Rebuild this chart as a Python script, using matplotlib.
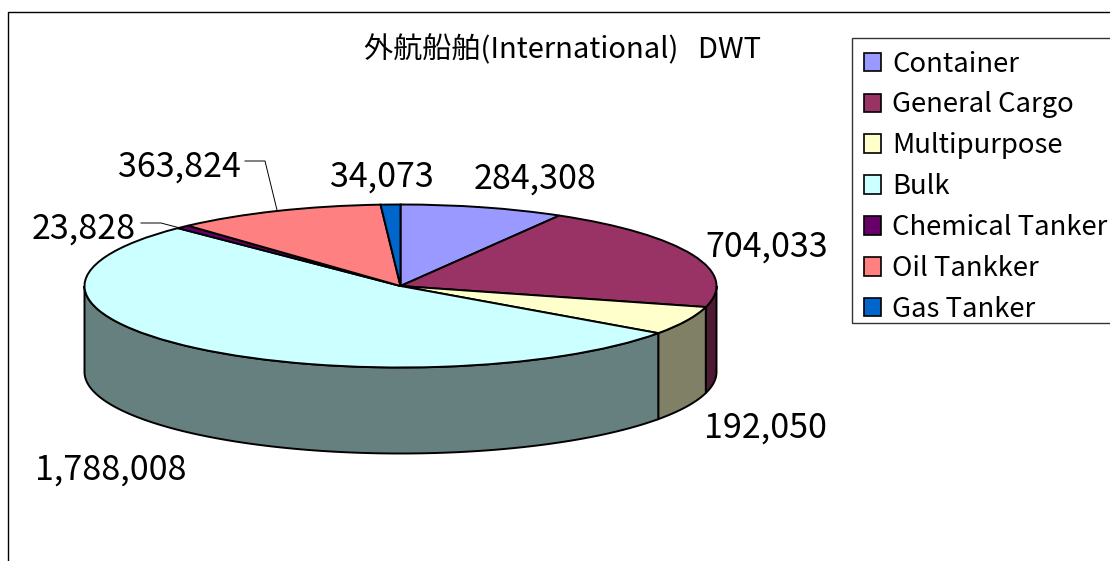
import numpy as np
import matplotlib
matplotlib.use("Agg")
import matplotlib.pyplot as plt
from matplotlib.patches import Patch, Polygon, Rectangle
from matplotlib.transforms import Affine2D

plt.rcParams['font.family'] = ['Noto Sans CJK JP', 'DejaVu Sans']

categories = ["Container", "General Cargo", "Multipurpose", "Bulk",
              "Chemical Tanker", "Oil Tankker", "Gas Tanker"]
values = [284308, 704033, 192050, 1788008, 23828, 363824, 34073]
colors = ["#9999FF", "#993366", "#FFFFCC", "#CCFFFF", "#660066", "#FF8080", "#0066CC"]
title = "外航船舶(International)   DWT"
value_labels = ["284,308", "704,033", "192,050", "1,788,008", "23,828", "363,824", "34,073"]
label_xy = [(535, 179), (767, 247), (765, 428), (111, 470), (84, 229), (179, 167), (382, 177)]

W, H = 1110, 561
CX, CY, RX, RY, DEPTH = 400.5, 286, 316, 81.5, 86

fig = plt.figure(figsize=(W / 100, H / 100), dpi=100, facecolor="white")
ax = fig.add_axes([0, 0, 1, 1])
px = Affine2D().scale(1 / W, -1 / H).translate(0, 1) + fig.transFigure

wedges, _ = ax.pie(values, colors=colors, startangle=90, counterclock=False, radius=1,
                   wedgeprops=dict(edgecolor="black", linewidth=1.4, zorder=5))
ax.set_aspect("auto")
ax.set_xlim(-CX / RX, (W - CX) / RX)
ax.set_ylim(-(H - CY) / RY, CY / RY)
ax.axis("off")

# side wall of the cylinder, only the front half shows
d = DEPTH / RY
edges = np.concatenate([[0], np.cumsum(values)]) / sum(values) * 360
for a0, a1, c in zip(edges[:-1], edges[1:], colors):
    lo, hi = max(a0, 90), min(a1, 270)
    if hi <= lo:
        continue
    t = np.radians(np.linspace(lo, hi, 120))
    x, y = np.sin(t), np.cos(t)
    pts = np.r_[np.c_[x, y], np.c_[x, y - d][::-1]]
    rgb = np.array(matplotlib.colors.to_rgb(c)) * 0.5
    ax.add_patch(Polygon(pts, closed=True, facecolor=rgb, edgecolor="black",
                         linewidth=1.4, zorder=2))

# chart frame
ax.plot([8, 8, W], [H, 12, 12], color="black", lw=1, transform=px, clip_on=False, zorder=1)

ax.text(563, 50, title, transform=px, ha="center", va="center", fontsize=21)
for s, (x, y) in zip(value_labels, label_xy):
    ax.text(x, y, s, transform=px, ha="center", va="center", fontsize=24.5, zorder=8)

# leader lines
ax.plot([245, 265, 277], [161, 161, 210], color="black", lw=0.7, transform=px, zorder=7)
ax.plot([141, 161, 180], [223, 223, 228], color="black", lw=0.7, transform=px, zorder=7)

# legend box is drawn apart, because the font's descent leaves the legend's own frame too tall
ax.add_patch(Rectangle((852, 38), 262, 285, transform=px, facecolor="white",
                       edgecolor="#333333", linewidth=1, zorder=9, clip_on=True))
handles = [Patch(facecolor=c, edgecolor="black", linewidth=1.2) for c in colors]
leg = ax.legend(handles, categories, loc="upper left", bbox_to_anchor=(852 / W, 1 - 39 / H),
                bbox_transform=fig.transFigure, borderaxespad=0, fontsize=19.8,
                handlelength=0.65, handleheight=0.65, handletextpad=0.4,
                labelspacing=0.505, borderpad=0.42, frameon=False)
leg.set_zorder(10)

fig.savefig("out.png", dpi=100, facecolor="white")
